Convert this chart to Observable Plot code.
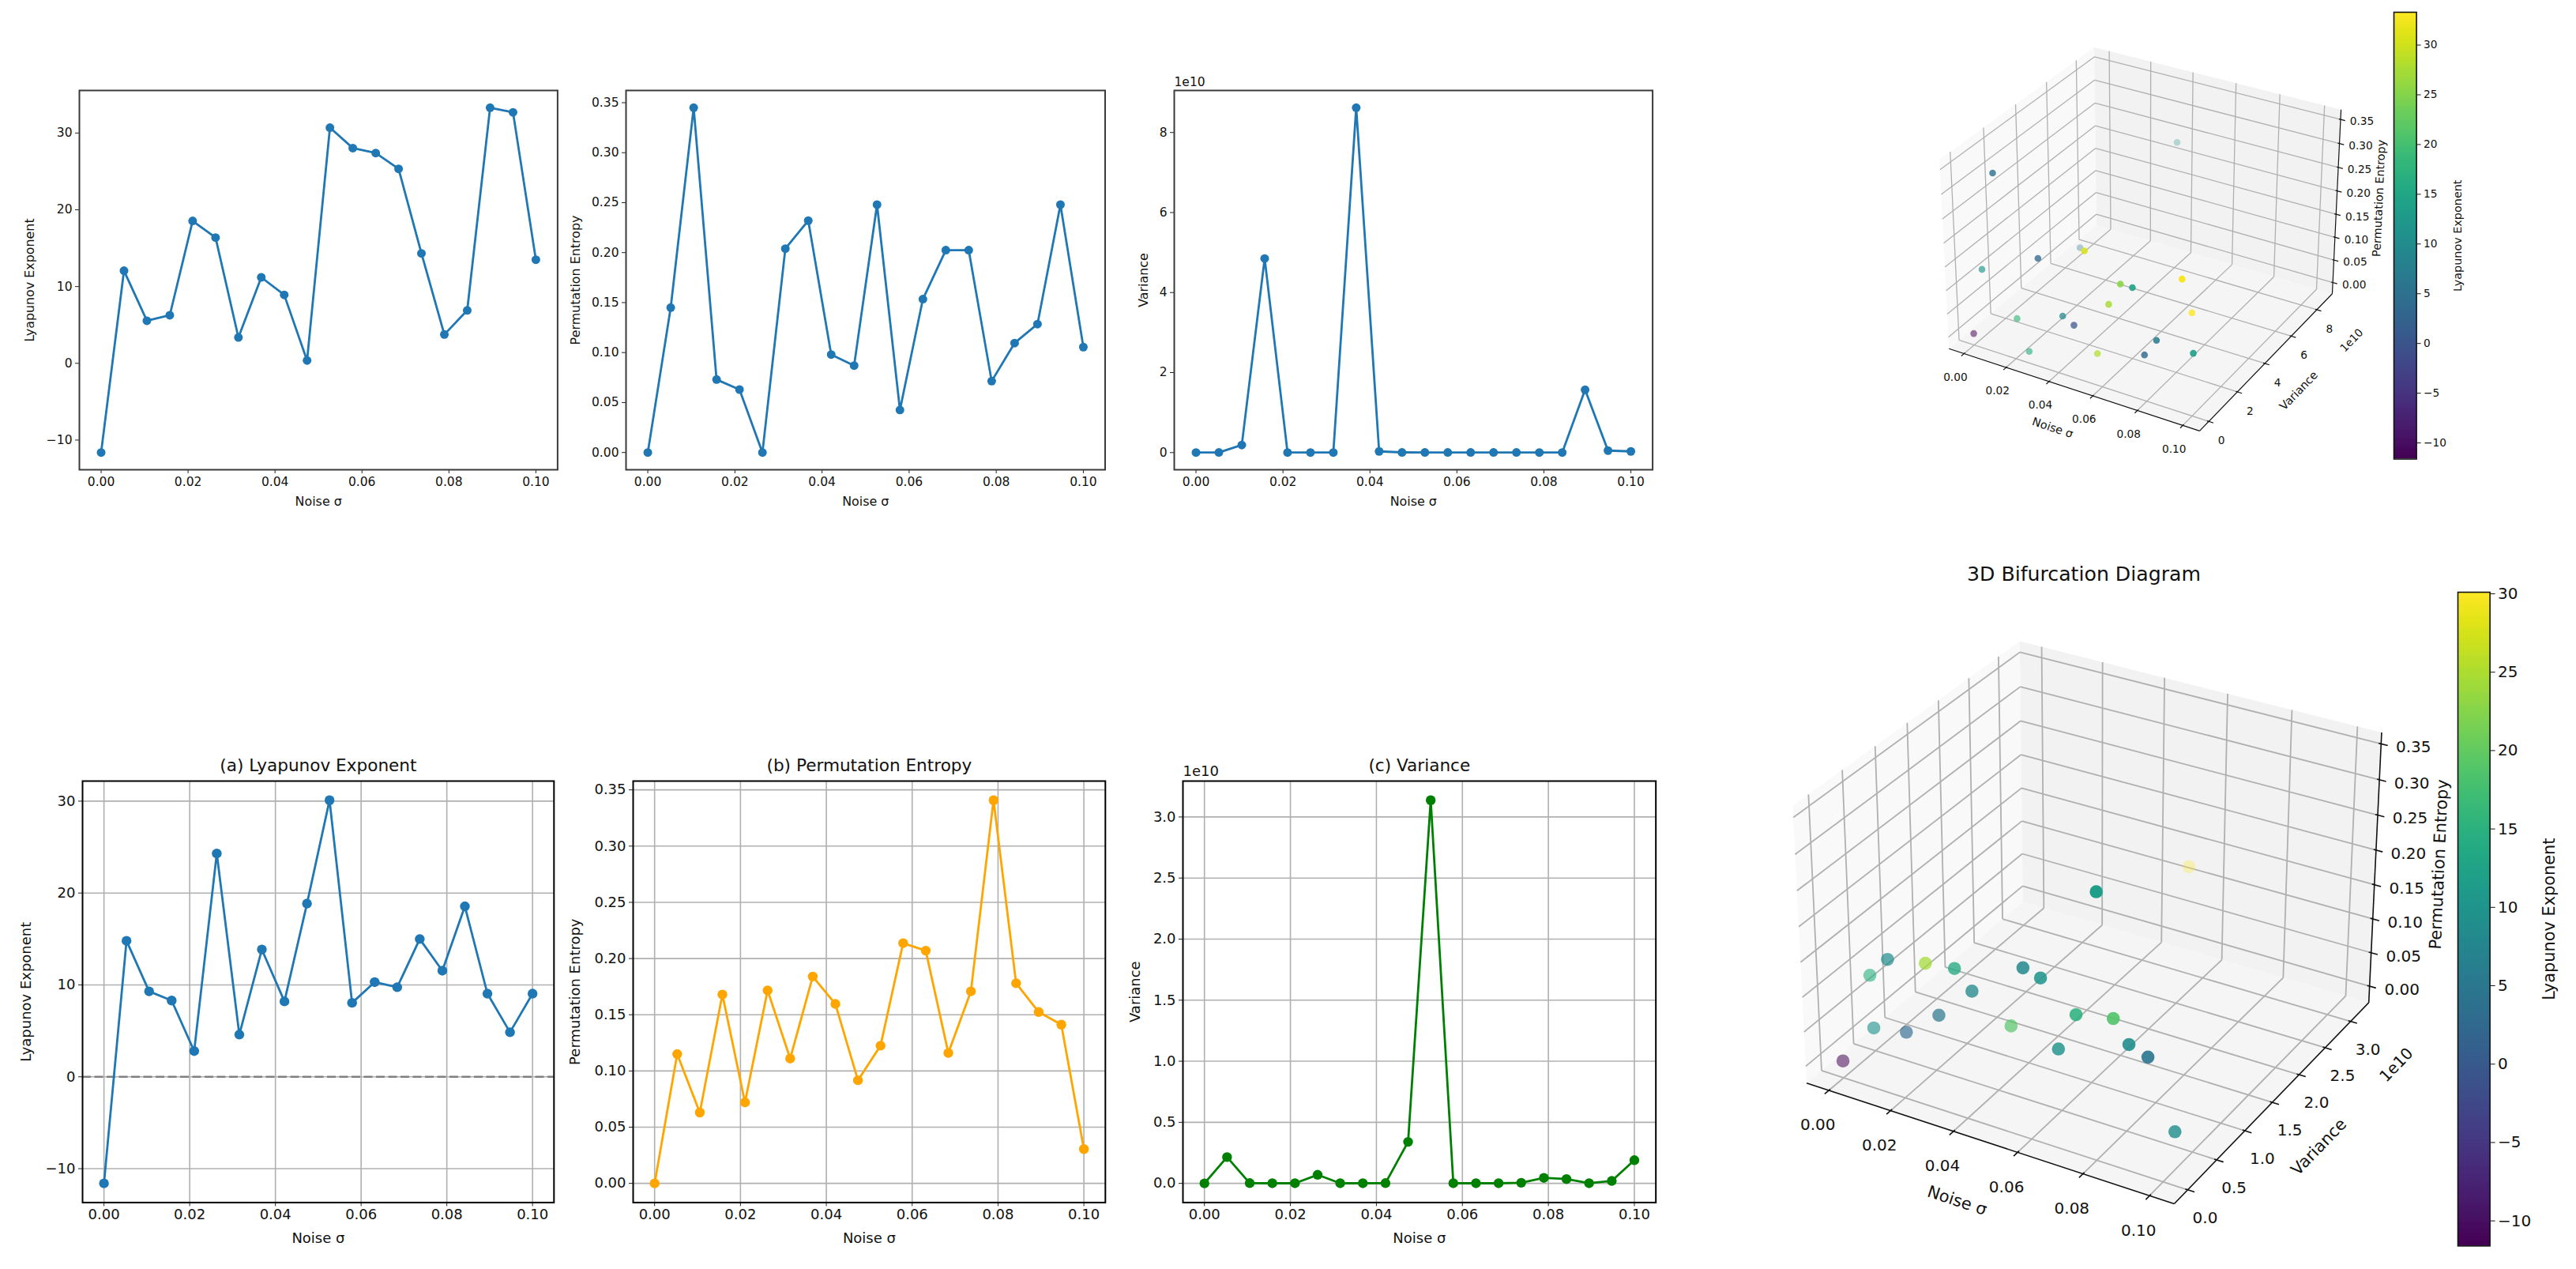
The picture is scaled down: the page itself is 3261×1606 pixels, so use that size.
<!DOCTYPE html>
<html>
<head>
<meta charset="utf-8">
<script src="https://cdn.jsdelivr.net/npm/d3@7"></script>
<script src="https://cdn.jsdelivr.net/npm/@observablehq/plot@0.6"></script>
<style>
html,body{margin:0;padding:0;background:#fff;}
#stage{position:relative;width:3261px;height:1606px;overflow:hidden;background:#fff;}
#stage svg{position:absolute;overflow:visible;background:transparent;}
</style>
</head>
<body>
<div id="stage"></div>
<script>
const noise = [0,0.00526,0.01053,0.01579,0.02105,0.02632,0.03158,0.03684,0.04211,0.04737,0.05263,0.05789,0.06316,0.06842,0.07368,0.07895,0.08421,0.08947,0.09474,0.1];

const lyapTop = [-11.62,12.07,5.55,6.26,18.55,16.38,3.37,11.2,8.92,0.37,30.7,28.04,27.4,25.34,14.32,3.75,6.9,33.3,32.7,13.5];
const entTop  = [0,0.145,0.345,0.073,0.063,0,0.204,0.232,0.098,0.087,0.248,0.0426,0.1535,0.2025,0.2025,0.0714,0.1095,0.1285,0.248,0.1055];
const varTop  = [0.002e10,0.003e10,0.19e10,4.85e10,0.002e10,0.002e10,0.002e10,8.62e10,0.03e10,0.005e10,0.004e10,0.004e10,0.003e10,0.003e10,0.003e10,0.002e10,0.002e10,1.57e10,0.05e10,0.03e10];

const lyapBot = [-11.6,14.8,9.3,8.3,2.8,24.3,4.6,13.85,8.2,18.85,30.1,8.05,10.3,9.75,15.0,11.55,18.55,9.05,4.85,9.05];
const entBot  = [0,0.115,0.063,0.168,0.072,0.1717,0.111,0.184,0.1596,0.0917,0.1225,0.2137,0.207,0.116,0.1708,0.3408,0.178,0.1524,0.1412,0.0305];
const varBot  = [0,0.215e10,0.002e10,0.001e10,0.001e10,0.07e10,0.001e10,0.001e10,0.002e10,0.34e10,3.137e10,0.001e10,0.001e10,0.001e10,0.005e10,0.045e10,0.035e10,0.001e10,0.02e10,0.19e10];

const xTicks = [0,0.02,0.04,0.06,0.08,0.1];
const lyapTicksTop = [-10,0,10,20,30];
const entTicks = [0,0.05,0.1,0.15,0.2,0.25,0.3,0.35];
const varTicksTop = [0,2e10,4e10,6e10,8e10];
const varTicksBot = [0,0.5e10,1e10,1.5e10,2e10,2.5e10,3e10];
const cbTicksTop = [-10,-5,0,5,10,15,20,25,30];
const noiseLabel = "Noise σ";
const lyapLabel = "Lyapunov Exponent";
const entLabel = "Permutation Entropy";
const varLabel = "Variance";
const offsetLabel = "1e10";
const titleBif = "3D Bifurcation Diagram";

const FONT = "'DejaVu Sans'";
const stage = document.getElementById("stage");
const fmt2 = d3.format(".2f");
const fmt1 = d3.format(".1f");
const fmtInt = d3.format("d");
const fmtE0 = d => fmtInt(d / 1e10);
const fmtE1 = d => fmt1(d / 1e10);
const pad5 = a => { const lo = d3.min(a), hi = d3.max(a), m = (hi - lo) * 0.05; return [lo - m, hi + m]; };

function place(svg, left, top) {
  svg.style.left = left + "px";
  svg.style.top = top + "px";
  stage.appendChild(svg);
}

function linePanel(c) {
  const ml = 90, mr = 20, mt = 50, mb = 70;
  const W = c.right - c.left + ml + mr, H = c.bottom - c.top + mt + mb;
  const rows = noise.map((s, i) => ({s, y: c.values[i]}));
  const marks = [];
  if (c.grid) {
    marks.push(Plot.gridX(xTicks, {stroke: "#b0b0b0", strokeOpacity: 1, strokeWidth: 1.6}));
    marks.push(Plot.gridY(c.ticks, {stroke: "#b0b0b0", strokeOpacity: 1, strokeWidth: 1.6}));
  }
  if (c.zero) marks.push(Plot.ruleY([0], {stroke: "#808080", strokeWidth: 2.6, strokeDasharray: "11 4.5"}));
  marks.push(
    Plot.line(rows, {x: "s", y: "y", stroke: c.color, strokeWidth: c.lw}),
    Plot.dot(rows, {x: "s", y: "y", fill: c.color, r: c.r}),
    Plot.axisX({ticks: xTicks, tickFormat: fmt2, tickSize: 5, tickPadding: c.tp, fontSize: c.fs, label: null, stroke: "#222"}),
    Plot.axisY({ticks: c.ticks, tickFormat: c.fmt, tickSize: 5, tickPadding: 4, fontSize: c.fs, label: null, stroke: "#222"}),
    Plot.frame({stroke: c.frame, strokeWidth: c.fw}),
    Plot.text([noiseLabel], {frameAnchor: "bottom", lineAnchor: "middle", dy: c.xlab, text: d => d, fontSize: c.ls, fill: "#111"}),
    Plot.text([c.ylabel], {frameAnchor: "left", lineAnchor: "middle", textAnchor: "middle", dx: -c.ylab, rotate: -90, text: d => d, fontSize: c.ls, fill: "#111"})
  );
  if (c.title) marks.push(Plot.text([c.title], {frameAnchor: "top", lineAnchor: "middle", dy: -19, text: d => d, fontSize: c.tsize, fill: "#111"}));
  if (c.offset) marks.push(Plot.text([offsetLabel], {frameAnchor: "top-left", lineAnchor: "middle", dy: c.offDy, textAnchor: "start", text: d => d, fontSize: c.fs, fill: "#111"}));
  const svg = Plot.plot({
    width: W, height: H, marginLeft: ml, marginRight: mr, marginTop: mt, marginBottom: mb,
    style: {fontFamily: FONT, background: "transparent", color: "#111", overflow: "visible"},
    x: {domain: [-0.005, 0.105], axis: null},
    y: {domain: pad5(c.values), axis: null},
    marks
  });
  place(svg, c.left - ml, c.top - mt);
}

const topRow = {top: 113.7, bottom: 593.7, frame: "#3a3a3a", fw: 2, lw: 2.8, r: 5.5, fs: 15.5, ls: 15.9, tp: 4, xlab: 40.3, offDy: -10};
const botRow = {top: 987.8, bottom: 1521.2, frame: "#000", fw: 2, lw: 2.8, r: 6.2, fs: 18, ls: 18, tp: 3, xlab: 45.8, offDy: -12, grid: true, tsize: 21.6};

linePanel({...topRow, left: 99.6, right: 705, values: lyapTop, ticks: lyapTicksTop, fmt: fmtInt, color: "#1f77b4", ylabel: lyapLabel, ylab: 63});
linePanel({...topRow, left: 792.3, right: 1398.8, values: entTop, ticks: entTicks, fmt: fmt2, color: "#1f77b4", ylabel: entLabel, ylab: 64});
linePanel({...topRow, left: 1485.9, right: 2091.5, values: varTop, ticks: varTicksTop, fmt: fmtE0, color: "#1f77b4", ylabel: varLabel, ylab: 39, offset: true});
linePanel({...botRow, left: 104.2, right: 701, values: lyapBot, ticks: lyapTicksTop, fmt: fmtInt, color: "#1f77b4", ylabel: lyapLabel, ylab: 71, title: "(a) Lyapunov Exponent", zero: true});
linePanel({...botRow, left: 800.5, right: 1398.3, values: entBot, ticks: entTicks, fmt: fmt2, color: "orange", ylabel: entLabel, ylab: 73, title: "(b) Permutation Entropy"});
linePanel({...botRow, left: 1497.3, right: 2096, values: varBot, ticks: varTicksBot, fmt: fmtE1, color: "green", ylabel: varLabel, ylab: 60.6, title: "(c) Variance", offset: true});

/* 3D scatter: same view as the original (elevation 30, azimuth -60, distance 10, box 4:4:3) */
const wv = [0.4330127, -0.75, 0.5], uv = [0.8660254, 0.5, 0], vv = [-0.25, 0.4330127, 0.8660254];
const box = [1.1905, 1.1905, 0.8929];
const dot3 = (a, b) => a[0]*b[0] + a[1]*b[1] + a[2]*b[2];

function scatter3D(c) {
  const lx = pad5(noise), ly = pad5(c.vari), lz = pad5(c.ent);
  const lims = [lx, ly, lz];
  const ext = lims.map(l => (l[1] - l[0]) / 48);
  const edge = lims.map((l, i) => [l[0] - ext[i], l[1] + ext[i]]);
  const delta = lims.map(l => (l[1] - l[0]) / 12);
  const proj = (x, y, z) => {
    const d = [x, y, z].map((v, i) => ((v - lims[i][0]) / (lims[i][1] - lims[i][0]) - 0.5) * box[i]);
    const depth = 10 - dot3(wv, d);
    return {px: dot3(uv, d) / depth, py: dot3(vv, d) / depth, depth};
  };
  const seg = (a, b, extra) => { const p = proj(...a), q = proj(...b); return {x1: p.px, y1: p.py, x2: q.px, y2: q.py, ...extra}; };
  const [xa, xb] = edge[0], [ya, yb] = edge[1], [za, zb] = edge[2];
  const poly = pts => pts.map(p => { const q = proj(...p); return {px: q.px, py: q.py}; });

  const paneLeft = poly([[xa,ya,za],[xa,yb,za],[xa,yb,zb],[xa,ya,zb]]);
  const paneBack = poly([[xa,yb,za],[xb,yb,za],[xb,yb,zb],[xa,yb,zb]]);
  const paneFloor = poly([[xa,ya,za],[xb,ya,za],[xb,yb,za],[xa,yb,za]]);

  const grid = [
    ...xTicks.flatMap(t => [seg([t,ya,za],[t,yb,za]), seg([t,yb,za],[t,yb,zb])]),
    ...c.varTicks.flatMap(t => [seg([xb,t,za],[xa,t,za]), seg([xa,t,za],[xa,t,zb])]),
    ...entTicks.flatMap(t => [seg([xa,ya,t],[xa,yb,t]), seg([xa,yb,t],[xb,yb,t])])
  ];
  const axes = [seg([xa,ya,za],[xb,ya,za]), seg([xb,ya,za],[xb,yb,za]), seg([xb,yb,za],[xb,yb,zb])];
  const tickLines = [
    ...xTicks.map(t => seg([t,ya-0.22*delta[1],za],[t,ya+0.08*delta[1],za])),
    ...c.varTicks.map(t => seg([xb+0.22*delta[0],t,za],[xb-0.08*delta[0],t,za])),
    ...entTicks.map(t => seg([xb+0.22*delta[0],yb,t],[xb-0.08*delta[0],yb,t]))
  ];
  const labelRows = (ticks, f, fn) => ticks.map(t => { const q = proj(...fn(t)); return {px: q.px, py: q.py, text: f(t)}; });

  const rows = noise.map((s, i) => {
    const q = proj(s, c.vari[i], c.ent[i]);
    return {px: q.px, py: q.py, depth: q.depth, l: c.lyap[i]};
  });
  const dmin = d3.min(rows, d => d.depth), dmax = d3.max(rows, d => d.depth);
  rows.forEach(d => d.alpha = 1 - 0.7 * (d.depth - dmin) / (dmax - dmin));
  rows.sort((a, b) => d3.descending(a.depth, b.depth));

  const txt = (rs, o) => Plot.text(rs, {x: "px", y: "py", text: "text", fontSize: c.fs, fill: "#111", ...o});
  const one = (pt, text, o) => { const q = proj(...pt); return Plot.text([{px: q.px, py: q.py, text}], {x: "px", y: "py", text: "text", fontSize: c.ls, fill: "#111", ...o}); };

  const marks = [
    Plot.line(paneLeft, {x: "px", y: "py", fill: "#f9f9f9", stroke: "none"}),
    Plot.line(paneBack, {x: "px", y: "py", fill: "#f2f2f2", stroke: "none"}),
    Plot.line(paneFloor, {x: "px", y: "py", fill: "#f5f5f5", stroke: "none"}),
    Plot.link(grid, {x1: "x1", y1: "y1", x2: "x2", y2: "y2", stroke: "#b0b0b0", strokeWidth: c.gw}),
    Plot.link(axes, {x1: "x1", y1: "y1", x2: "x2", y2: "y2", stroke: "#111", strokeWidth: c.aw}),
    Plot.link(tickLines, {x1: "x1", y1: "y1", x2: "x2", y2: "y2", stroke: "#111", strokeWidth: c.aw}),
    Plot.dot(rows, {x: "px", y: "py", r: c.r, fill: "l", fillOpacity: "alpha", stroke: "none"}),
    txt(labelRows(xTicks, fmt2, t => [t, ya, za]), {dx: c.xOff[0], dy: c.xOff[1]}),
    txt(labelRows(c.varTicks, c.varFmt, t => [xb, t, za]), {dx: c.yOff[0], dy: c.yOff[1]}),
    txt(labelRows(entTicks, fmt2, t => [xb, yb, t]), {dx: c.zOff[0], dy: c.zOff[1]}),
    one([(xa+xb)/2, ya, za], noiseLabel, {dx: c.xLab[0], dy: c.xLab[1], rotate: 18.2}),
    one([xb, (ya+yb)/2, za], varLabel, {dx: c.yLab[0], dy: c.yLab[1], rotate: -46}),
    one([xb, yb, (za+zb)/2], entLabel, {dx: c.zLab[0], dy: c.zLab[1], rotate: -87.5}),
    one([xb, yb, za], offsetLabel, {dx: c.off[0], dy: c.off[1], rotate: -46, fontSize: c.fs})
  ];
  if (c.title) marks.push(Plot.text([c.title], {frameAnchor: "top", lineAnchor: "middle", dy: c.titleDy, dx: c.titleDx, text: d => d, fontSize: c.tsize, fill: "#111"}));

  const svg = Plot.plot({
    width: c.W, height: c.H, margin: 0,
    style: {fontFamily: FONT, background: "transparent", color: "#111", overflow: "visible"},
    x: {domain: [(c.L - c.cx) / c.s, (c.L + c.W - c.cx) / c.s], range: [0, c.W], axis: null},
    y: {domain: [(c.cy - c.T) / c.s, (c.cy - c.T - c.H) / c.s], range: [0, c.H], axis: null},
    color: {type: "linear", scheme: "viridis", domain: d3.extent(c.lyap)},
    opacity: {type: "identity"},
    marks
  });
  place(svg, c.L, c.T);
}

function colorBar(c) {
  const mr = 100;
  const [lo, hi] = d3.extent(c.lyap);
  const n = 256, dy = (hi - lo) / n;
  const steps = d3.range(n).map(i => lo + i * dy);
  const svg = Plot.plot({
    width: c.right - c.left + mr, height: c.bottom - c.top, margin: 0, marginRight: mr,
    style: {fontFamily: FONT, background: "transparent", color: "#111", overflow: "visible"},
    x: {domain: [0, 1], axis: null},
    y: {domain: [lo, hi], axis: null},
    color: {type: "linear", scheme: "viridis", domain: [lo, hi]},
    marks: [
      Plot.rect(steps, {x1: 0, x2: 1, y1: d => d, y2: d => Math.min(hi, d + dy * 1.3), fill: d => d, shapeRendering: "crispEdges"}),
      Plot.frame({stroke: "#111", strokeWidth: 1.6}),
      Plot.axisY({anchor: "right", ticks: cbTicksTop, tickFormat: fmtInt, tickSize: c.ts, tickPadding: 4, fontSize: c.fs, label: null}),
      Plot.text([lyapLabel], {frameAnchor: "right", lineAnchor: "middle", textAnchor: "middle", dx: c.labDx, rotate: -90, text: d => d, fontSize: c.ls, fill: "#111"})
    ]
  });
  place(svg, c.left, c.top);
}

scatter3D({
  vari: varTop, ent: entTop, lyap: lyapTop, varTicks: varTicksTop, varFmt: fmtE0,
  L: 2400, T: 0, W: 630, H: 620, cx: 2714, cy: 290, s: 2930,
  r: 4.3, fs: 13.7, ls: 14.4, gw: 1.3, aw: 1.2,
  xOff: [-11, 30], yOff: [16, 24.5], zOff: [27, 3],
  xLab: [-23, 49.7], yLab: [37.7, 40], zLab: [54, -7], off: [24.6, 59]
});
scatter3D({
  vari: varBot, ent: entBot, lyap: lyapBot, varTicks: varTicksBot, varFmt: fmtE1,
  L: 2200, T: 690, W: 910, H: 916, cx: 2649.2, cy: 1149.2, s: 4297,
  r: 8.3, fs: 20, ls: 20.9, gw: 1.8, aw: 1.6,
  xOff: [-14, 44], yOff: [22, 36], zOff: [41, 4.5],
  xLab: [-35.8, 74.6], yLab: [54.3, 61.3], zLab: [81, -8], off: [35, 79],
  title: titleBif, titleDy: 36.6, titleDx: -17.5, tsize: 25.2
});
colorBar({lyap: lyapTop, left: 3030, right: 3058.6, top: 15, bottom: 580.5, ts: 5, fs: 13.7, ls: 14.4, labDx: 52});
colorBar({lyap: lyapBot, left: 3111.4, right: 3152, top: 749, bottom: 1576.4, ts: 6, fs: 20, ls: 20.9, labDx: 75.7});
</script>
</body>
</html>
